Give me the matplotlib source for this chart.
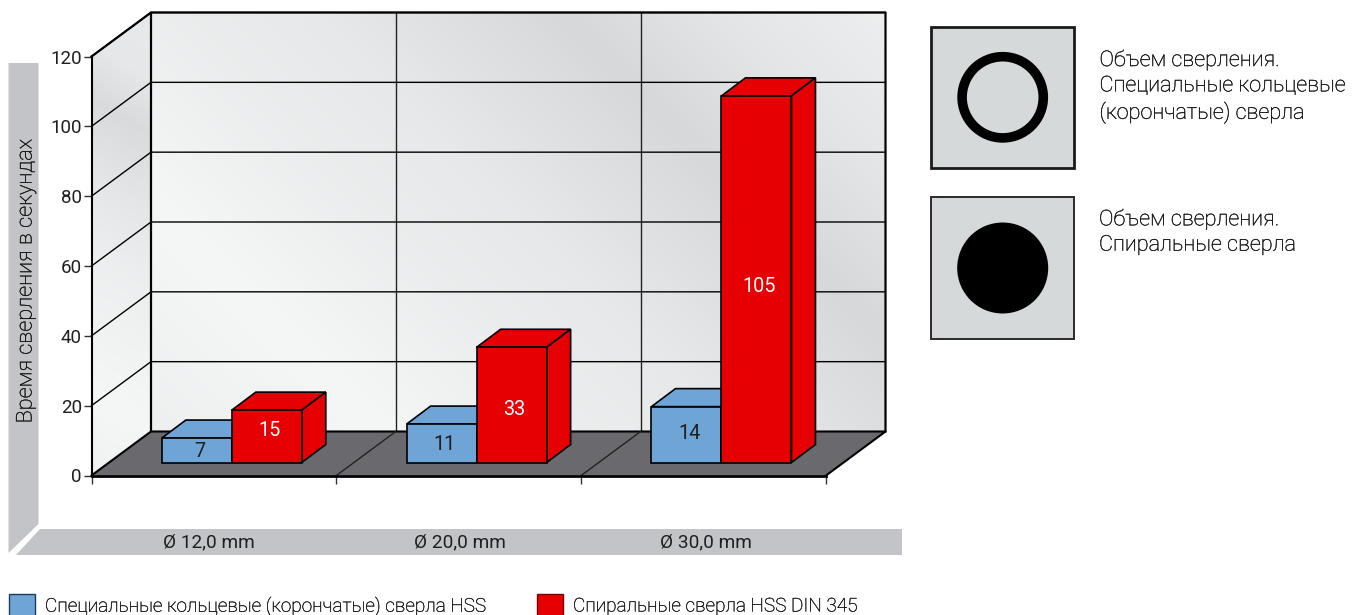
import numpy as np
import matplotlib
matplotlib.use("Agg")
import matplotlib.pyplot as plt
import matplotlib.patheffects as pe
from matplotlib.patches import Polygon, Rectangle, Circle
from matplotlib.colors import LinearSegmentedColormap, to_rgb

plt.rcParams['font.family'] = ['Roboto', 'DejaVu Sans']

# ---- data ----
categories = ["Ø 12,0 mm", "Ø 20,0 mm", "Ø 30,0 mm"]
annular_values = [7, 11, 16]      # heights as drawn
annular_labels = ["7", "11", "14"]
twist_values = [15, 33, 105]
twist_labels = ["15", "33", "105"]
y_ticks = [0, 20, 40, 60, 80, 100, 120]
y_label = "Время сверления в секундах"
legend_annular = "Специальные кольцевые (корончатые) сверла HSS"
legend_twist = "Спиральные сверла HSS DIN 345"
note_annular = "Объем сверления.\nСпециальные кольцевые\n(корончатые) сверла"
note_twist = "Объем сверления.\nСпиральные сверла"

# ---- style ----
W, H = 1352, 615
BLUE, RED = "#6fa4d7", "#e60004"
TXT = "#1f1f1f"
BAND = "#c3c4c7"
BOX = "#d6d9da"
FLOOR = "#6a696d"
LIGHT_INK = "#111111"
THICKEN = [pe.withStroke(linewidth=0.2, foreground=LIGHT_INK)]

fig = plt.figure(figsize=(W / 100, H / 100), dpi=100, facecolor="white")

# pixel-space layer for the decoration
deco = fig.add_axes([0, 0, 1, 1], zorder=0)
deco.set_xlim(0, W)
deco.set_ylim(H, 0)
deco.axis("off")

# chart axes: front plane of the pseudo-3D box
X0, X1, Y0, Y120 = 91.5, 826.0, 475.5, 56.5
ax = fig.add_axes([X0 / W, 1 - Y0 / H, (X1 - X0) / W, (Y0 - Y120) / H], zorder=1)
ax.set_xlim(0, 3)
ax.set_ylim(0, 120)
ax.patch.set_visible(False)
px_x = (X1 - X0) / 3
px_y = (Y0 - Y120) / 120

# depth of the box in data units
DX, DY = 59.5 / px_x, 44.0 / px_y
# bars
BAR_OFF = 70.3 / px_x
BAR_W = 70.0 / px_x
BAR_BASE = 13.0 / px_y
BAR_DX, BAR_DY = 24.0 / px_x, 18.0 / px_y


def ramp(stops):
    return LinearSegmentedColormap.from_list("r", [(p, to_rgb(c)) for p, c in stops])


# back wall gradient
gx = np.linspace(X0, 900, 500)
gy = np.linspace(0, 480, 300)
GX, GY = np.meshgrid(gx, gy)
t_back = np.interp(GX - GY, [-300, -50, 150, 300, 550, 700, 874],
                   [0.75, 1.0, 0.70, 0.55, 0.0, 0.42, 0.75])
stops = ramp([(0, "#d6d8da"), (1, "#f5f6f6")])
ext = [(gx[0] - X0) / px_x, (gx[-1] - X0) / px_x,
       (Y0 - gy[-1]) / px_y, (Y0 - gy[0]) / px_y]
back = ax.imshow(t_back, cmap=stops, vmin=0, vmax=1, extent=ext, origin="upper",
                 aspect="auto", zorder=1)
back_poly = Polygon([(DX, DY), (3 + DX, DY), (3 + DX, 120 + DY), (DX, 120 + DY)],
                    closed=True, transform=ax.transData, fc="none", ec="none")
ax.add_patch(back_poly)
back_poly.set_clip_on(False)
back.set_clip_path(back_poly)
back.set_clip_box(fig.bbox)

# side wall gradient
s = GY - 0.6 * GX
t_side = np.interp(s, [-50, -10, 44, 120, 190, 340, 420],
                   [0.55, 0.5, 0.08, 0.45, 0.72, 1.0, 0.85])
side = ax.imshow(t_side, cmap=stops, vmin=0, vmax=1, extent=ext, origin="upper",
                 aspect="auto", zorder=1.1)
side_poly = Polygon([(0, 0), (DX, DY), (DX, 120 + DY), (0, 120)], closed=True,
                    transform=ax.transData, fc="none", ec="none")
ax.add_patch(side_poly)
side_poly.set_clip_on(False)
side.set_clip_path(side_poly)
side.set_clip_box(fig.bbox)
ax.set_xlim(0, 3)
ax.set_ylim(0, 120)

# grid
for v in y_ticks[1:]:
    ax.plot([0, DX, 3 + DX], [v, v + DY, v + DY], color="black", lw=1.0,
            clip_on=False, zorder=2)
for c in [1, 2]:
    ax.plot([c + DX, c + DX], [DY, 120 + DY], color="#222222", lw=1.0,
            clip_on=False, zorder=2)
# wall frame
ax.plot([0, DX, 3 + DX, 3 + DX], [120, 120 + DY, 120 + DY, DY], color="black",
        lw=1.6, clip_on=False, zorder=2.5)
ax.plot([DX, DX], [DY, 120 + DY], color="black", lw=1.6, clip_on=False, zorder=2.5)

# floor
ax.add_patch(Polygon([(0, 0), (3, 0), (3 + DX, DY), (DX, DY)], closed=True, fc=FLOOR,
                     ec="none", clip_on=False, zorder=3))
ax.plot([0, DX, 3 + DX, 3], [0, DY, DY, 0], color="black", lw=1.5, clip_on=False, zorder=3.1)
for c in [1, 2]:
    ax.plot([c, c + DX], [0, DY], color="#222222", lw=1.0, clip_on=False, zorder=3.1)


def draw_bars(positions, values, labels, label_dy, colour, z, txt_colour):
    ax.bar(positions, values, width=BAR_W, bottom=BAR_BASE, align="edge", color=colour,
           edgecolor="black", linewidth=1.2, clip_on=False, zorder=z + 0.1)
    for x, v, lab, d in zip(positions, values, labels, label_dy):
        top = BAR_BASE + v
        r = x + BAR_W
        ax.add_patch(Polygon([(x, top), (r, top), (r + BAR_DX, top + BAR_DY),
                              (x + BAR_DX, top + BAR_DY)], closed=True, fc=colour,
                             ec="black", lw=1.2, clip_on=False, zorder=z))
        ax.add_patch(Polygon([(r, BAR_BASE), (r + BAR_DX, BAR_BASE + BAR_DY),
                              (r + BAR_DX, top + BAR_DY), (r, top)], closed=True, fc=colour,
                             ec="black", lw=1.2, clip_on=False, zorder=z))
        ax.annotate(lab, (x + BAR_W / 2, BAR_BASE + v / 2), xytext=(3, d),
                    textcoords="offset pixels", ha="center", va="center", fontsize=14.3,
                    color=txt_colour, zorder=z + 0.2, annotation_clip=False)


idx = np.arange(len(categories))
draw_bars(idx + BAR_OFF, annular_values, annular_labels, [-1, -1, 1], BLUE, 4, TXT)
draw_bars(idx + BAR_OFF + BAR_W, twist_values, twist_labels, [6, -5, -7], RED, 5, "white")

# axes furniture
for sp in ("top", "right"):
    ax.spines[sp].set_visible(False)
ax.spines["left"].set_linewidth(1.5)
ax.spines["bottom"].set_linewidth(2.0)
ax.spines["left"].set_zorder(3.5)
ax.spines["bottom"].set_zorder(3.5)
ax.set_yticks(y_ticks)
ax.set_xticks(range(len(categories) + 1))
ax.set_xticklabels([])
ax.tick_params(axis="y", length=5.5, width=1.0, color="#333333", labelsize=13.5,
               labelcolor=TXT, pad=1.5)
ax.tick_params(axis="x", length=5.5, width=1.0, color="#333333")

# grey L-shaped band
deco.add_patch(Polygon([(8.5, 63), (38.5, 63), (38.5, 524), (8.5, 553)], closed=True,
                       fc=BAND, ec="none"))
deco.add_patch(Polygon([(39.5, 529), (901.7, 529), (901.7, 555), (16, 555)], closed=True,
                       fc=BAND, ec="none"))
deco.text(26, 281.5, y_label, rotation=90, ha="center", va="center", fontsize=15.7,
          fontweight="light", color=LIGHT_INK, path_effects=THICKEN)
for name, xp in zip(categories, [208.5, 460, 706]):
    deco.text(xp, 542.5, name, ha="center", va="center", fontsize=13.65, color=TXT)

# legend
deco.add_patch(Rectangle((9, 593.5), 25.5, 30, fc=BLUE, ec="#1d3b5a", lw=1.0))
deco.text(45, 606.5, legend_annular, ha="left", va="center", fontsize=13.7,
          fontweight="light", color=LIGHT_INK, path_effects=THICKEN)
deco.add_patch(Rectangle((537, 593.5), 25.5, 30, fc=RED, ec="#7a0002", lw=1.0))
deco.text(573, 606.5, legend_twist, ha="left", va="center", fontsize=13.7,
          fontweight="light", color=LIGHT_INK, path_effects=THICKEN)

# right-hand boxes
deco.add_patch(Rectangle((931, 26.5), 142.5, 141.5, fc=BOX, ec="#1a1a1a", lw=2.0))
deco.add_patch(Circle((1002.7, 97.3), 40.6, fc="none", ec="black", lw=6.9))
deco.add_patch(Rectangle((931, 197), 142.5, 142, fc=BOX, ec="#2a2a2a", lw=1.4))
deco.add_patch(Circle((1002.7, 268), 45.5, fc="black", ec="none"))
deco.text(1099.5, 86.5, note_annular, ha="left", va="center", fontsize=15.6,
          fontweight="light", color=LIGHT_INK, linespacing=1.27, path_effects=THICKEN)
deco.text(1099, 232, note_twist, ha="left", va="center", fontsize=15.6,
          fontweight="light", color=LIGHT_INK, linespacing=1.27, path_effects=THICKEN)

fig.savefig("out.png", dpi=100, facecolor="white")
